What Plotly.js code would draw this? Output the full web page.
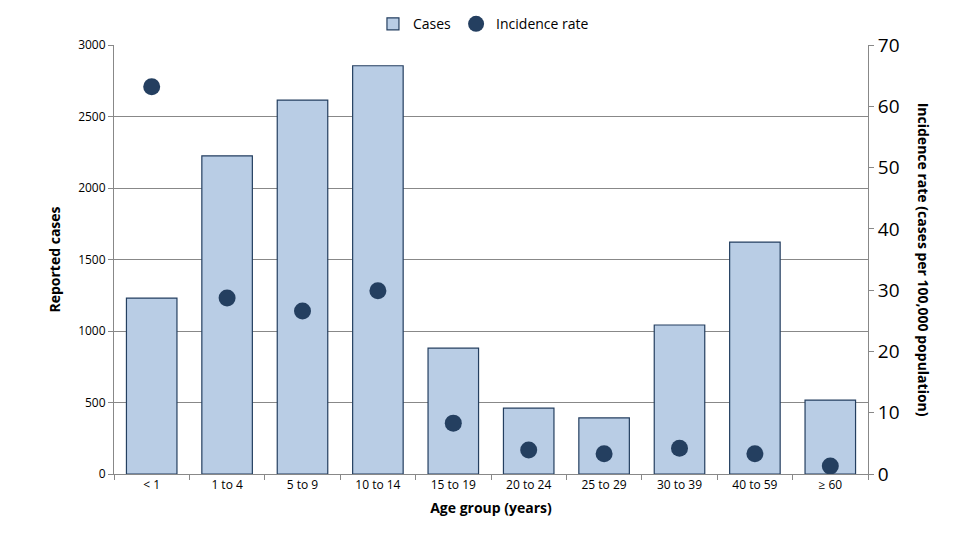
<!DOCTYPE html>
<html>
<head>
<meta charset="utf-8">
<script src="https://cdn.plot.ly/plotly-3.0.1.min.js"></script>
<style>html,body{margin:0;padding:0;background:#fff;}#chart{width:967px;height:538px;}</style>
</head>
<body>
<div id="chart"></div>
<script>
const categories = ["< 1", "1 to 4", "5 to 9", "10 to 14", "15 to 19", "20 to 24", "25 to 29", "30 to 39", "40 to 59", "≥ 60"];
const cases = [1230, 2225, 2615, 2855, 880, 460, 392, 1042, 1622, 517];
const incidenceRate = [63.2, 28.7, 26.6, 29.9, 8.3, 3.9, 3.3, 4.2, 3.3, 1.3];
const leftTicks = [0, 500, 1000, 1500, 2000, 2500, 3000];
const rightTicks = [0, 10, 20, 30, 40, 50, 60, 70];

const font = "Open Sans, Noto Sans, sans-serif";
const navy = "#243F60";

const traces = [
  {
    type: "bar", name: "Cases", x: categories, y: cases,
    marker: {color: "#B9CDE5", line: {color: navy, width: 1.2}},
    width: 0.67
  },
  {
    type: "scatter", mode: "markers", name: "Incidence rate", x: categories, y: incidenceRate,
    yaxis: "y2",
    marker: {color: navy, size: 17, symbol: "circle"}
  }
];

const layout = {
  width: 967, height: 538,
  margin: {l: 114, r: 99, t: 45, b: 64},
  paper_bgcolor: "#fff", plot_bgcolor: "#fff",
  font: {family: font, color: "#000", size: 12},
  showlegend: true,
  legend: {orientation: "h", xref: "paper", x: 0.49, xanchor: "center",
           yref: "container", y: 0.955, yanchor: "middle",
           font: {size: 14, family: font}, itemwidth: 30, traceorder: "normal"},
  xaxis: {
    type: "category", range: [-0.5, categories.length - 0.5], autorange: false,
    showgrid: false, showline: true, linecolor: "#888", linewidth: 1,
    ticks: "outside", tickcolor: "#888", ticklen: 5, tickson: "boundaries",
    tickfont: {size: 12, family: font}, zeroline: false,
    title: {text: "<b>Age group (years)</b>", font: {size: 14, family: font}, standoff: 10}
  },
  yaxis: {
    range: [0, 3000], tickvals: leftTicks, showgrid: true, gridcolor: "#888", gridwidth: 1,
    showline: true, linecolor: "#888", ticks: "outside", tickcolor: "#888", ticklen: 5,
    zeroline: false, tickfont: {size: 12, family: font},
    title: {text: "<b>Reported cases</b>", font: {size: 14, family: font}, standoff: 14}
  },
  yaxis2: {
    range: [0, 70], tickvals: rightTicks, overlaying: "y", side: "right",
    showgrid: false, showline: true, linecolor: "#888", ticks: "outside", tickcolor: "#888", ticklen: 5,
    zeroline: false, tickfont: {size: 19, family: font}
  },
  annotations: [{
    text: "<b>Incidence rate (cases per 100,000 population)</b>",
    xref: "paper", yref: "paper", x: 1.074, y: 0.5, xanchor: "center", yanchor: "middle",
    textangle: 90, showarrow: false, font: {size: 14, family: font}
  }]
};

Plotly.newPlot("chart", traces, layout, {displayModeBar: false, staticPlot: true});
</script>
</body>
</html>
